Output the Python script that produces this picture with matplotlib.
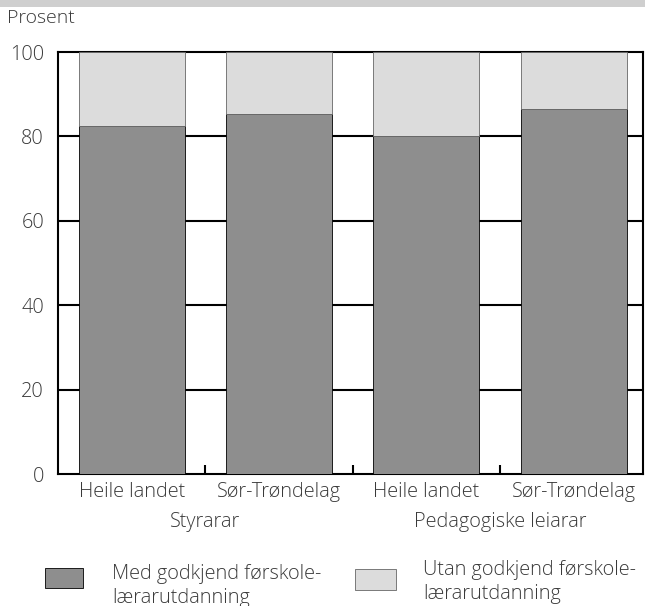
import matplotlib
matplotlib.use('Agg')
import matplotlib.pyplot as plt
from matplotlib.patches import Rectangle
from matplotlib.transforms import blended_transform_factory

# data
categories = ['Heile landet', 'Sør-Trøndelag', 'Heile landet', 'Sør-Trøndelag']
groups = ['Styrarar', 'Pedagogiske leiarar']
med = [82.5, 85.3, 80.0, 86.6]
utan = [100 - v for v in med]
series_names = ['Med godkjend førskole-\nlærarutdanning',
                'Utan godkjend førskole-\nlærarutdanning']

dark = '#8e8e8e'
light = '#dcdcdc'
txtcol = '#3a3a3a'

plt.rcParams['font.family'] = ['Open Sans', 'DejaVu Sans']
plt.rcParams['font.weight'] = 'light'
fs = 14.3

fig = plt.figure(figsize=(6.45, 6.06), dpi=100)
ax = fig.add_axes([58/645., (606-474)/606., 585/645., 422/606.])

x = range(len(categories))
ax.bar(x, med, width=0.72, color=dark, edgecolor='black', linewidth=0.6, zorder=3)
ax.bar(x, utan, bottom=med, width=0.72, color=light, edgecolor='#666666', linewidth=0.6, zorder=3)

ax.set_xlim(-0.5, 3.47)
ax.set_ylim(0, 100)
for yv in [20, 40, 60, 80]:
    ax.axhline(yv, color='black', lw=1.5, zorder=1)
for s in ax.spines.values():
    s.set_linewidth(1.5)

ax.set_yticks([0, 20, 40, 60, 80, 100])
ax.tick_params(axis='y', length=0, pad=10, labelsize=fs, labelcolor=txtcol)
ax.set_xticks(list(x))
ax.set_xticklabels(categories)
ax.tick_params(axis='x', length=0, pad=6, labelsize=fs, labelcolor=txtcol)
ax.set_xticks([0.5, 1.5, 2.5], minor=True)
ax.tick_params(axis='x', which='minor', direction='in', length=6.5, width=1.5)

tr = blended_transform_factory(ax.transData, fig.transFigure)
ax.text(0.5, 1 - 522/606., groups[0], transform=tr, ha='center', va='center',
        fontsize=fs, color=txtcol)
ax.text(2.5, 1 - 522/606., groups[1], transform=tr, ha='center', va='center',
        fontsize=fs, color=txtcol)

fig.text(7/645., 1 - 18/606., 'Prosent', ha='left', va='center', fontsize=14, color=txtcol)

# grey strip at the very top (cut-off title band)
fig.patches.append(Rectangle((0, 1 - 7/606.), 1, 7/606., transform=fig.transFigure,
                             facecolor='#cfcfcf', edgecolor='none'))

# legend
fig.patches.append(Rectangle((45/645., 1 - 588/606.), 38/645., 20/606., transform=fig.transFigure,
                             facecolor=dark, edgecolor='black', linewidth=0.6))
fig.patches.append(Rectangle((355/645., 1 - 590/606.), 41/645., 21/606., transform=fig.transFigure,
                             facecolor=light, edgecolor='#666666', linewidth=0.6))
fig.text(112/645., 1 - 586/606., series_names[0], ha='left', va='center', fontsize=fs,
         color=txtcol, linespacing=1.2)
fig.text(423/645., 1 - 582/606., series_names[1], ha='left', va='center', fontsize=fs,
         color=txtcol, linespacing=1.2)

fig.savefig('out.png', dpi=100)
